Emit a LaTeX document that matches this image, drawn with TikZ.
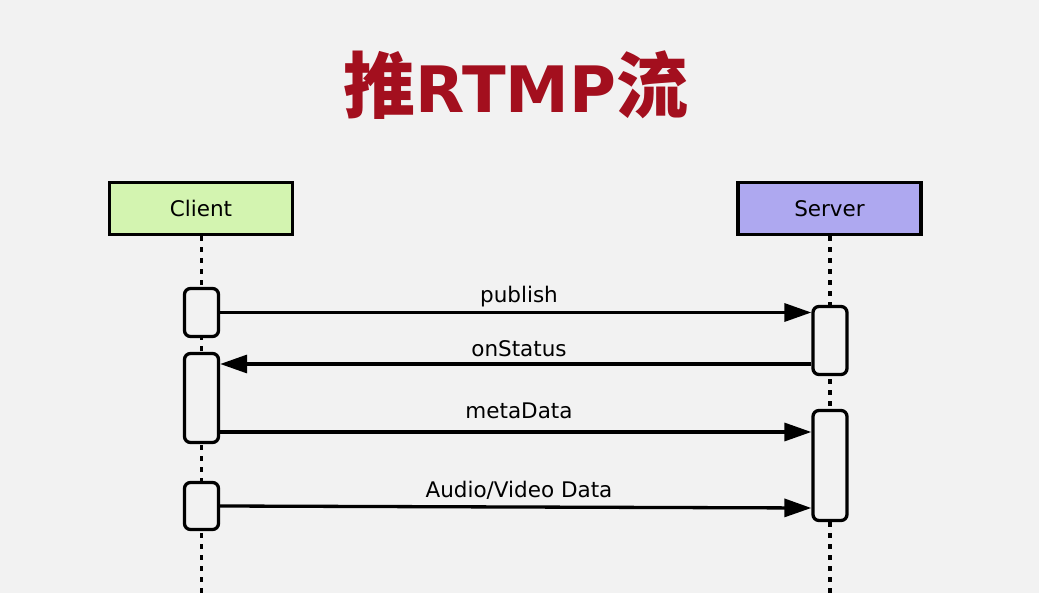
\documentclass[tikz,border=0pt]{standalone}
\usepackage{fontspec}
\setmainfont{DejaVu Sans}
\newfontfamily\cjk{Noto Sans CJK SC}
\usetikzlibrary{arrows.meta}
\definecolor{bgc}{HTML}{F2F2F2}
\definecolor{titlered}{HTML}{A30F1E}
\definecolor{cgreen}{HTML}{D3F4B0}
\definecolor{spurple}{HTML}{AEA8F0}
\tikzset{
  lane/.style={draw=black, line width=3.3pt, minimum width=183pt, minimum height=52pt, inner sep=0pt,
    font=\fontsize{21.5}{24}\selectfont},
  act/.style={draw=black, line width=3.3pt, rounded corners=6pt, fill=bgc, minimum width=34pt, inner sep=0pt},
  life/.style={line width=3.5pt, dash pattern=on 5pt off 6pt},
  msg/.style={line width=3.3pt, -{Triangle[length=27pt,width=18pt]}},
  lbl/.style={font=\fontsize{21.5}{24}\selectfont, anchor=base, inner sep=0pt}
}
\begin{document}
\begin{tikzpicture}[x=1pt,y=-1pt]
  \fill[bgc] (0,0) rectangle (1039,593);
  \useasboundingbox (0,0) rectangle (1039,593);
  % title
  \node[anchor=base, text=titlered, inner sep=0pt] (title) at (516,113)
    {{\cjk\bfseries\fontsize{72}{80}\selectfont 推}{\bfseries\fontsize{64}{70}\selectfont RTMP}{\cjk\bfseries\fontsize{72}{80}\selectfont 流}};
  % participants
  \node[lane, fill=cgreen] (client) at (201,208.5) {\raisebox{-2pt}{Client}};
  \node[lane, fill=spurple] (server) at (829.5,208.5) {\raisebox{-2pt}{Server}};
  % lifelines
  \coordinate (cend) at (201.5,596);
  \coordinate (send) at (830,596);
  \draw[life] (client.south -| cend) -- (cend);
  \draw[life] (server.south -| send) -- (send);
  % activations
  \node[act, minimum height=48pt] (c1) at (201.5,312.5) {};
  \node[act, minimum height=89pt] (c2) at (201.5,398) {};
  \node[act, minimum height=47pt] (c3) at (201.5,506) {};
  \node[act, minimum height=68pt] (s1) at (830,340.5) {};
  \node[act, minimum height=110pt] (s2) at (830,465.5) {};
  % messages
  \draw[msg] (c1.east) -- (s1.west |- c1.east);
  \draw[msg] (s1.west |- 0,364) -- (c2.east |- 0,364);
  \draw[msg] (c2.east |- 0,432) -- (s2.west |- 0,432);
  \draw[msg] (c3.east) -- (s2.west |- 0,508);
  % labels
  \node[lbl] (l1) at (519,303) {publish};
  \node[lbl] (l2) at (519,357) {onStatus};
  \node[lbl] (l3) at (519,419) {metaData};
  \node[lbl] (l4) at (519,497) {Audio/Video Data};
\end{tikzpicture}
\end{document}
